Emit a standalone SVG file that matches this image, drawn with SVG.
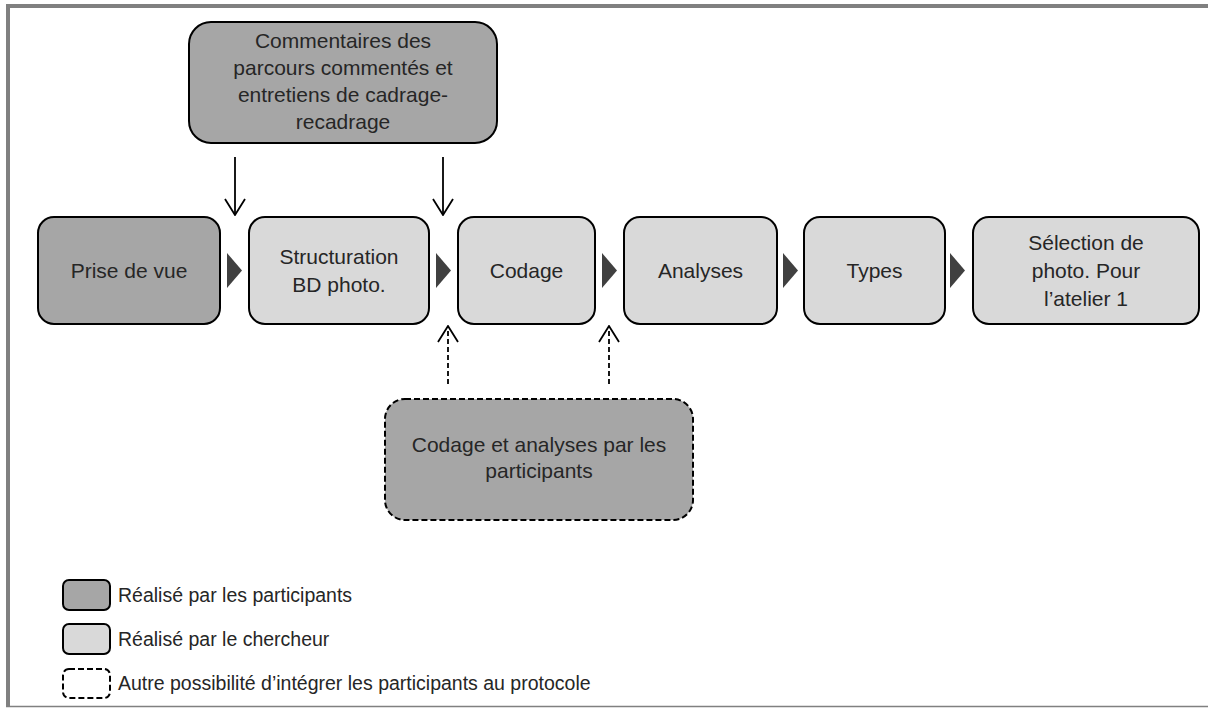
<svg xmlns="http://www.w3.org/2000/svg" width="1208" height="709" viewBox="0 0 1208 709">
<style>
.t{font-family:"Liberation Sans",Arial,sans-serif;font-size:21px;fill:#262626;text-anchor:middle}
.lg{font-family:"Liberation Sans",Arial,sans-serif;font-size:19.5px;fill:#262626}
.dk{fill:#a6a6a6;stroke:#000;stroke-width:2}
.lt{fill:#d9d9d9;stroke:#000;stroke-width:2}
.ds{stroke-dasharray:6 3}
.tri{fill:#404040}
.ar{stroke:#000;stroke-width:1.8;fill:none}
</style>
<defs>
<marker id="open" viewBox="0 0 22 18" refX="11" refY="17" markerWidth="22" markerHeight="18" markerUnits="userSpaceOnUse" orient="0">
<path d="M1,1 L11,17 L21,1" fill="none" stroke="#000" stroke-width="1.8"/>
</marker>
<marker id="openup" viewBox="0 0 22 18" refX="11" refY="1" markerWidth="22" markerHeight="18" markerUnits="userSpaceOnUse" orient="0">
<path d="M1,17 L11,1 L21,17" fill="none" stroke="#000" stroke-width="1.8"/>
</marker>
</defs>
<rect width="1208" height="709" fill="#fff"/>
<g id="frame" fill="none" stroke="#808080">
<line x1="6" y1="6" x2="1208" y2="6" stroke-width="4"/>
<line x1="8" y1="4" x2="8" y2="707" stroke-width="4"/>
<line x1="6" y1="706.5" x2="1208" y2="706.5" stroke-width="1.5"/>
</g>
<g id="connectors">
<line class="ar" x1="235" y1="157" x2="235" y2="215" marker-end="url(#open)"/>
<line class="ar" x1="443" y1="157" x2="443" y2="215" marker-end="url(#open)"/>
<line class="ar" x1="448" y1="384" x2="448" y2="326" marker-end="url(#openup)" style="stroke-dasharray:5 3"/>
<line class="ar" x1="609" y1="384" x2="609" y2="326" marker-end="url(#openup)" style="stroke-dasharray:5 3"/>
<path class="tri" d="M227,253 L242,270.5 L227,288 Z"/>
<path class="tri" d="M436,253 L451,270.5 L436,288 Z"/>
<path class="tri" d="M602,253 L617,270.5 L602,288 Z"/>
<path class="tri" d="M783,253 L798,270.5 L783,288 Z"/>
<path class="tri" d="M950,253 L965,270.5 L950,288 Z"/>
</g>
<g id="commentaires">
<rect class="dk" x="189" y="22" width="308" height="121" rx="22"/>
<text class="t" x="343" y="48">Commentaires des</text>
<text class="t" x="343" y="75">parcours commentés et</text>
<text class="t" x="343" y="102">entretiens de cadrage-</text>
<text class="t" x="343" y="129">recadrage</text>
</g>
<g id="prise">
<rect class="dk" x="38" y="217" width="182" height="107" rx="16"/>
<text class="t" x="129" y="278">Prise de vue</text>
</g>
<g id="structuration">
<rect class="lt" x="249" y="217" width="180" height="107" rx="16"/>
<text class="t" x="339" y="264">Structuration</text>
<text class="t" x="339" y="292">BD photo.</text>
</g>
<g id="codage">
<rect class="lt" x="458" y="217" width="137" height="107" rx="16"/>
<text class="t" x="526.5" y="278">Codage</text>
</g>
<g id="analyses">
<rect class="lt" x="624" y="217" width="153" height="107" rx="16"/>
<text class="t" x="700.5" y="278">Analyses</text>
</g>
<g id="types">
<rect class="lt" x="804" y="217" width="141" height="107" rx="16"/>
<text class="t" x="874.5" y="278">Types</text>
</g>
<g id="selection">
<rect class="lt" x="973" y="217" width="226" height="107" rx="16"/>
<text class="t" x="1086" y="250">Sélection de</text>
<text class="t" x="1086" y="278">photo. Pour</text>
<text class="t" x="1086" y="306">l’atelier 1</text>
</g>
<g id="codage-participants">
<rect class="dk ds" x="385" y="399" width="308" height="121" rx="20"/>
<text class="t" x="539" y="452">Codage et analyses par les</text>
<text class="t" x="539" y="478">participants</text>
</g>
<g id="legend">
<rect class="dk" x="63" y="580" width="47" height="30" rx="6"/>
<text class="lg" x="118" y="602">Réalisé par les participants</text>
<rect class="lt" x="63" y="624" width="47" height="30" rx="6"/>
<text class="lg" x="118" y="646">Réalisé par le chercheur</text>
<rect x="63" y="669" width="47" height="29" rx="6" fill="#fff" stroke="#000" stroke-width="2" stroke-dasharray="6 3"/>
<text class="lg" x="118" y="690">Autre possibilité d’intégrer les participants au protocole</text>
</g>
</svg>
